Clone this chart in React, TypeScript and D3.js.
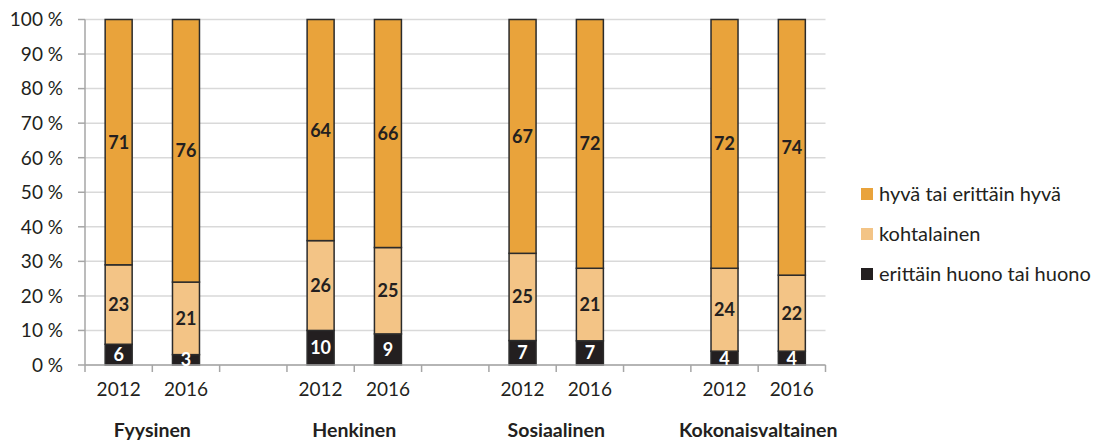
import React from "react";
import * as d3 from "d3";

const groups = ["Fyysinen", "Henkinen", "Sosiaalinen", "Kokonaisvaltainen"];
const years = ["2012", "2016"];
const seriesNames = ["erittäin huono tai huono", "kohtalainen", "hyvä tai erittäin hyvä"];
const seriesColors = ["#231F20", "#F3C486", "#E9A33B"];
const labelColors = ["#ffffff", "#231F20", "#231F20"];
// values per bar in order: huono, kohtalainen, hyvä
const huono = [6, 3, 10, 9, 7, 7, 4, 4];
const kohtalainen = [23, 21, 26, 25, 25, 21, 24, 22];
const hyva = [71, 76, 64, 66, 67, 72, 72, 74];
const yTicks = [0, 10, 20, 30, 40, 50, 60, 70, 80, 90, 100];

const W = 1100, H = 441;
const M = { left: 85, right: 825.5, top: 19.5, bottom: 365 };
const FONT = "Lato, 'Open Sans', sans-serif";

export default function App() {
  // slots: 2 bars per group plus one blank slot between groups
  const slots: string[] = [];
  groups.forEach((g, gi) => {
    years.forEach((y) => slots.push(g + "|" + y));
    if (gi < groups.length - 1) slots.push("gap" + gi);
  });
  const x = d3.scaleBand<string>().domain(slots).range([M.left, M.right]).paddingInner(0).paddingOuter(0);
  const y = d3.scaleLinear().domain([0, 100]).range([M.bottom, M.top]);
  const barW = 27;

  const bars = groups.flatMap((g, gi) =>
    years.map((yr, yi) => {
      const i = gi * 2 + yi;
      const vals = [huono[i], kohtalainen[i], hyva[i]];
      const total = d3.sum(vals);
      let acc = 0;
      const segs = vals.map((v, si) => {
        const y0 = (acc / total) * 100;
        acc += v;
        const y1 = (acc / total) * 100;
        return { v, si, y0, y1 };
      });
      return { key: g + "|" + yr, yr, segs };
    })
  );

  const boundaries = slots.map((s) => x(s)!).concat([M.right]);

  return (
    <svg width={W} height={H} style={{ position: "absolute", left: 0, top: 0, background: "#fff" }} fontFamily={FONT}>
      {/* gridlines */}
      {yTicks.map((t) => (
        <line key={"g" + t} x1={M.left} x2={M.right} y1={y(t)} y2={y(t)} stroke="#D9D9D9" strokeWidth={1.5} />
      ))}
      {/* y axis */}
      <line x1={M.left} x2={M.left} y1={M.top} y2={M.bottom} stroke="#A6A6A6" strokeWidth={1.5} />
      {yTicks.map((t) => (
        <g key={"yt" + t}>
          <line x1={M.left - 7} x2={M.left} y1={y(t)} y2={y(t)} stroke="#A6A6A6" strokeWidth={1.5} />
          <text x={63} y={y(t)} dy="0.36em" textAnchor="end" fontSize={19} fill="#231F20">
            {t + " %"}
          </text>
        </g>
      ))}
      {/* bars */}
      {bars.map((b) => {
        const cx = x(b.key)! + x.bandwidth() / 2;
        return (
          <g key={b.key}>
            {b.segs.map((s) => (
              <rect
                key={s.si}
                x={cx - barW / 2}
                y={y(s.y1)}
                width={barW}
                height={y(s.y0) - y(s.y1)}
                fill={seriesColors[s.si]}
                stroke="#2b2b2b"
                strokeWidth={1.5}
              />
            ))}
          </g>
        );
      })}
      {/* x axis */}
      <line x1={M.left} x2={M.right} y1={M.bottom} y2={M.bottom} stroke="#A6A6A6" strokeWidth={1.5} />
      {boundaries.map((bx, i) => (
        <line key={"xt" + i} x1={bx} x2={bx} y1={M.bottom} y2={M.bottom + 7} stroke="#A6A6A6" strokeWidth={1.5} />
      ))}
      {/* bar labels */}
      {bars.map((b) => {
        const cx = x(b.key)! + x.bandwidth() / 2;
        return (
          <g key={"l" + b.key}>
            {b.segs.map((s) => (
              <text
                key={s.si}
                x={cx}
                y={y((s.y0 + s.y1) / 2)}
                dy="0.36em"
                textAnchor="middle"
                fontSize={18}
                fontWeight="bold"
                fill={labelColors[s.si]}
              >
                {s.v}
              </text>
            ))}
          </g>
        );
      })}
      {/* year labels */}
      {bars.map((b) => (
        <text key={"yr" + b.key} x={x(b.key)! + x.bandwidth() / 2} y={389} dy="0.36em" textAnchor="middle" fontSize={19} fill="#231F20">
          {b.yr}
        </text>
      ))}
      {/* group labels */}
      {groups.map((g) => {
        const a = x(g + "|" + years[0])!;
        const bEnd = x(g + "|" + years[1])! + x.bandwidth();
        return (
          <text key={"grp" + g} x={(a + bEnd) / 2} y={430} dy="0.36em" textAnchor="middle" fontSize={19.5} fontWeight="bold" fill="#231F20">
            {g}
          </text>
        );
      })}
      {/* legend */}
      {[2, 1, 0].map((si, i) => (
        <g key={"lg" + si} transform={`translate(861, ${194 + i * 40})`}>
          <rect x={0} y={-6} width={12} height={12} fill={seriesColors[si]} />
          <text x={18} y={0} dy="0.36em" fontSize={20} fill="#231F20">
            {seriesNames[si]}
          </text>
        </g>
      ))}
    </svg>
  );
}
